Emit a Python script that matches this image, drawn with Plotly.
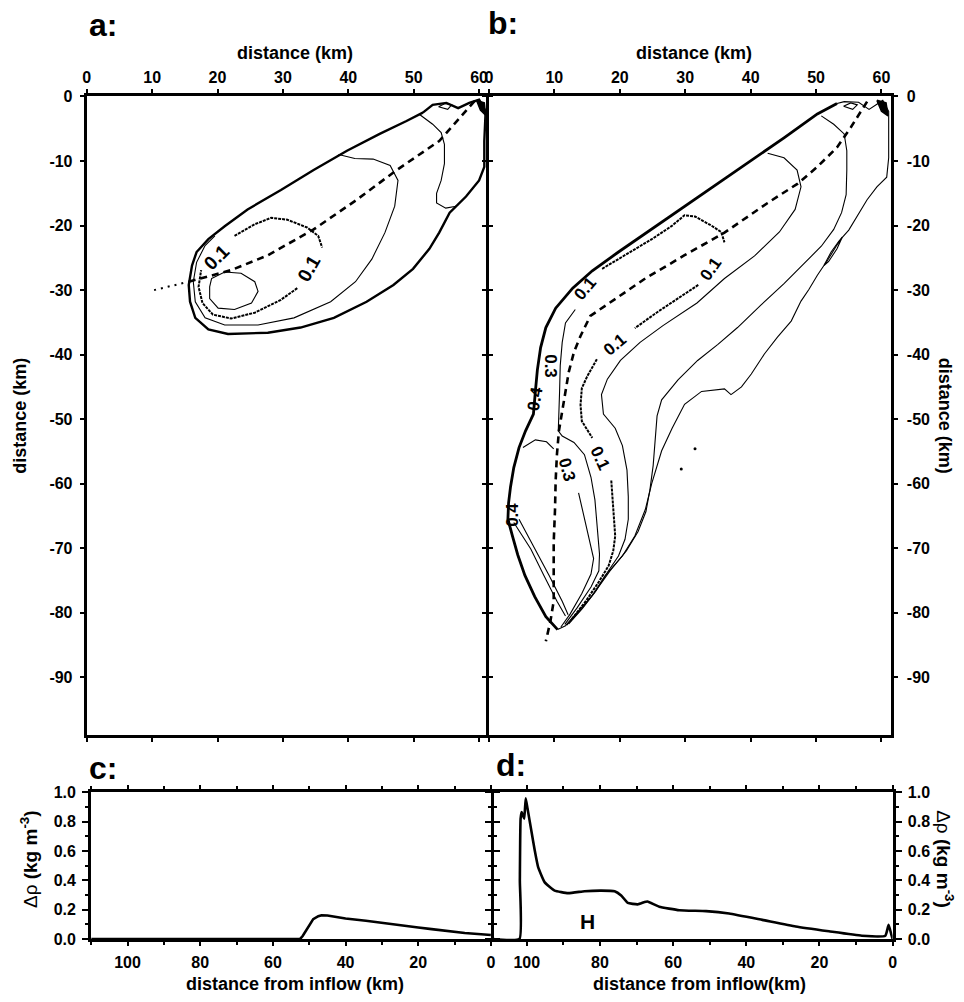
import plotly.graph_objects as go

FONT = "Liberation Sans, Arial, sans-serif"

# ---------------- tick values and labels ----------------
TOP_TICKS = [0, 10, 20, 30, 40, 50, 60]
DEPTH_TICKS = [0, -10, -20, -30, -40, -50, -60, -70, -80, -90]
DEPTH_TEXT = ["0", "-10", "-20", "-30", "-40", "-50", "-60", "-70", "-80", "-90"]
INFLOW_TICKS = [100, 80, 60, 40, 20, 0]
DRHO_TICKS = [0.0, 0.2, 0.4, 0.6, 0.8, 1.0]
DRHO_TEXT = ["0.0", "0.2", "0.4", "0.6", "0.8", "1.0"]

# ---------------- panel a: plume outline and contours (km, km) ----------------
a_outer = [(51.4, -2.5), (52.9, -1.3), (55.0, -1.0), (56.8, -1.8), (58.5, -1.0), (60.0, -0.5),
           (61.0, -2.3), (60.8, -6.9), (60.8, -10.9), (60.0, -13.0), (58.0, -15.5), (55.5, -18.0),
           (53.9, -21.1), (52.4, -23.6), (49.9, -26.7), (46.9, -29.2), (42.8, -31.8), (37.8, -34.3),
           (32.7, -35.8), (27.7, -36.6), (21.6, -36.8), (18.6, -36.1), (16.6, -34.3), (15.8, -31.8),
           (15.6, -29.2), (16.1, -26.2), (16.8, -24.1), (18.6, -22.1), (21.1, -20.1), (24.6, -17.5),
           (29.7, -14.5), (34.7, -11.4), (39.8, -8.4), (44.8, -5.8), (48.9, -3.8), (51.4, -2.5)]
a_near_inflow = [(50.9, -2.8), (52.9, -4.3), (54.2, -5.6), (54.7, -7.4), (54.7, -10.4), (54.2, -13.0),
                 (53.5, -15.0), (53.5, -16.5), (54.9, -17.3), (56.5, -17.0)]
a_mid = [(38.5, -9.0), (41.0, -9.6), (43.8, -9.7), (46.4, -10.7), (47.6, -13.0), (47.1, -17.0),
         (45.6, -21.1), (43.6, -25.2), (41.1, -28.7), (37.3, -31.8), (31.7, -34.3), (26.2, -35.4),
         (21.1, -35.4), (18.1, -34.3), (16.6, -31.8), (16.3, -28.7), (16.8, -25.7), (18.1, -23.1),
         (19.6, -21.6)]
a_c01_upper = [(22.6, -21.6), (25.7, -19.8), (28.2, -18.8), (30.7, -19.1), (33.7, -20.3),
               (35.4, -21.6), (36.0, -23.4)]
a_c01_lower = [(32.2, -29.7), (29.7, -31.5), (25.7, -33.5), (22.1, -34.4), (19.3, -33.8),
               (17.7, -32.0), (17.1, -29.5), (17.5, -26.9)]
a_core = [(19.1, -28.2), (21.1, -27.2), (23.6, -27.4), (25.7, -28.7), (26.2, -30.2), (25.2, -32.0),
          (22.6, -33.0), (20.1, -32.8), (18.8, -31.3), (18.8, -29.5), (19.1, -28.2)]
a_path = [(15.6, -28.7), (22.1, -26.9), (27.7, -24.6), (34.7, -20.6), (41.3, -16.0), (47.4, -11.4),
          (53.9, -6.9), (58.0, -2.3), (59.5, -0.5)]
a_path_tail = [(10.3, -30.0), (15.6, -28.7)]
a_loop_top = [(53.8, -1.6), (54.8, -1.1), (55.8, -1.3), (55.2, -2.0), (53.8, -1.6)]
a_wedge = [(59.6, -0.6), (60.8, -1.0), (61.0, -2.9), (60.2, -2.1), (59.6, -0.6)]
a_labels = [("0.1", 19.8, -24.9, -45), ("0.1", 34.0, -26.7, -60)]

# ---------------- panel b ----------------
b_outer_left = [(53.2, -1.1), (50.2, -2.7), (45.1, -6.4), (40.1, -9.9), (35.0, -13.4), (29.9, -17.1),
                (24.9, -20.6), (19.8, -24.1), (15.8, -27.0), (12.8, -29.7), (10.2, -32.8), (8.7, -35.8),
                (7.9, -38.9), (7.4, -42.4), (7.1, -45.7), (6.8, -49.2), (5.6, -51.8), (4.6, -54.4),
                (3.8, -57.5), (3.3, -60.5), (3.0, -63.0), (2.9, -65.5), (3.6, -68.1), (4.4, -71.0),
                (5.5, -74.2), (7.0, -77.5), (8.7, -80.6), (10.5, -82.6)]
b_outer_right = [(53.2, -1.1), (54.3, -0.8), (56.5, -0.9), (58.1, -2.0), (59.3, -1.2), (60.2, -0.6),
                 (61.1, -2.3), (61.1, -5.8), (61.1, -9.5), (60.8, -12.5), (59.3, -14.0), (57.8, -16.0),
                 (56.2, -18.6), (55.0, -20.7), (53.5, -22.4), (52.3, -24.1), (51.2, -26.2), (50.2, -27.7),
                 (48.9, -29.9), (47.7, -31.7), (46.2, -34.8), (44.1, -37.3), (42.1, -39.9), (40.1, -43.0),
                 (38.6, -45.0), (37.0, -46.2), (36.0, -45.3), (32.5, -45.7), (29.9, -47.7), (28.0, -51.4),
                 (26.4, -54.9), (24.9, -59.9), (23.9, -64.0), (22.3, -68.1), (20.4, -71.2), (17.8, -74.2),
                 (15.8, -77.3), (13.2, -80.3), (11.7, -82.0), (10.5, -82.6)]
b_near_inflow = [(50.8, -3.0), (52.7, -4.3), (54.3, -5.8), (54.7, -8.4), (54.7, -11.4), (54.6, -15.2),
                 (53.9, -18.0), (52.7, -20.6), (50.8, -23.2), (48.2, -25.9), (45.1, -29.0), (41.6, -32.3),
                 (38.0, -35.8), (35.0, -38.4), (31.9, -40.9), (28.9, -43.9), (26.4, -47.0), (25.7, -49.5),
                 (25.4, -53.4), (25.1, -57.2), (24.6, -61.0), (24.0, -64.3), (22.8, -67.4), (21.0, -70.4),
                 (18.5, -73.5), (16.4, -76.5), (14.0, -79.6), (11.9, -81.9)]
b_mid = [(42.6, -8.8), (45.1, -9.5), (47.1, -11.4), (47.7, -14.0), (46.8, -17.5), (44.4, -21.0),
         (40.6, -24.7), (36.0, -28.2), (31.8, -32.0), (26.6, -35.5), (23.1, -38.1), (20.1, -40.9),
         (18.1, -43.8), (17.2, -46.2), (17.5, -49.2), (19.3, -51.4), (20.4, -54.1), (21.1, -57.9),
         (21.3, -62.0), (21.3, -65.5), (20.8, -68.6), (19.8, -71.2), (18.2, -73.6), (16.3, -76.7),
         (14.3, -79.3), (12.2, -81.7)]
b_c01_upper = [(17.3, -26.7), (20.8, -24.6), (24.9, -22.1), (27.9, -20.1), (29.9, -18.4), (31.5, -18.6),
               (34.0, -20.0), (35.5, -21.0), (36.0, -22.6)]
b_c01_lower1 = [(32.0, -29.2), (28.9, -31.3), (25.9, -33.3), (22.3, -35.9)]
b_c01_lower2 = [(16.5, -40.7), (15.0, -43.4), (14.2, -45.2), (14.0, -47.8), (14.2, -50.3), (15.8, -52.9)]
b_c01_lower3 = [(18.7, -59.5), (19.0, -64.0), (19.3, -68.1), (19.0, -70.4), (18.3, -72.7), (16.8, -75.2),
                (14.8, -78.2), (12.5, -81.2)]
b_c03_a = [(13.2, -33.0), (11.7, -35.1), (11.2, -38.1), (10.9, -41.7), (10.8, -45.7), (10.7, -49.3),
           (10.6, -51.8), (11.2, -52.6), (13.0, -53.6), (14.6, -55.5), (15.6, -59.0), (16.2, -62.5),
           (16.6, -67.1), (16.9, -70.9), (16.8, -73.5), (15.6, -76.0), (13.5, -79.2), (11.6, -81.8)]
b_c03_b1 = [(5.2, -54.4), (7.1, -53.2), (8.8, -53.5), (9.9, -54.6)]
b_c03_b2 = [(13.7, -61.4), (14.6, -65.5), (15.4, -69.1), (16.0, -71.6), (15.6, -74.0), (14.2, -77.0),
            (12.4, -80.2), (11.0, -82.2)]
b_edge1 = [(3.8, -66.0), (6.4, -70.1), (8.4, -74.2), (10.4, -78.2), (11.7, -80.5)]
b_edge2 = [(4.6, -65.5), (7.1, -70.1), (9.2, -74.2), (11.2, -78.2), (12.1, -80.3)]
b_path = [(57.8, -0.8), (55.3, -4.8), (53.2, -7.9), (50.2, -10.9), (47.2, -13.5), (42.6, -16.5),
          (36.0, -21.1), (29.9, -24.6), (23.9, -28.2), (18.8, -31.8), (15.5, -34.0), (14.0, -37.1),
          (13.0, -39.6), (12.2, -42.7), (11.7, -45.7), (11.2, -49.3), (10.7, -51.8), (10.4, -55.4),
          (10.2, -59.5), (10.1, -64.0), (9.9, -69.1), (9.9, -74.2), (9.9, -78.2), (9.4, -81.3), (8.7, -84.4)]
b_loop_side = [(54.0, -21.8), (53.0, -23.3), (51.7, -25.5), (51.2, -26.2), (51.9, -25.6), (53.2, -23.6),
               (54.0, -21.8)]
b_loop_top = [(54.2, -1.5), (55.3, -1.0), (56.3, -1.3), (55.6, -2.0), (54.2, -1.5)]
b_wedge = [(59.3, -0.6), (60.7, -1.0), (61.0, -3.0), (60.0, -2.3), (59.3, -0.6)]
b_specks = [(31.5, -54.6), (29.4, -57.7)]
b_labels = [("0.1", 14.7, -29.7, -50), ("0.1", 34.0, -26.7, -55), ("0.1", 19.3, -38.4, -40),
            ("0.1", 17.0, -56.1, 65), ("0.3", 9.5, -41.8, 90), ("0.3", 12.0, -57.9, 75),
            ("0.4", 7.1, -46.8, -80), ("0.4", 3.7, -64.8, -90)]

# ---------------- panels c, d: density anomaly along the path ----------------
c_dist = [110, 52.5, 51.8, 50.7, 48.9, 47.5, 46.6, 45.0, 43.4, 40.0, 34.4, 30.0, 25.3, 20.0, 16.3,
          10.0, 7.2, 0.0]
c_drho = [0, 0, 0.02, 0.067, 0.135, 0.155, 0.162, 0.16, 0.153, 0.14, 0.124, 0.11, 0.09, 0.078, 0.067,
          0.05, 0.04, 0.027]
d_dist = [109.5, 102.0, 101.9, 101.7, 101.4, 101.0, 100.7, 100.3, 99.8, 98.7, 97.8, 96.9, 95.1, 92.4,
          88.7, 84.2, 79.6, 76.0, 74.2, 72.4, 69.7, 67.8, 67.0, 63.8, 58.3, 51.0, 44.7, 35.6, 26.5,
          17.4, 8.4, 2.0, 1.1, 0.35, 0.0]
d_drho = [0, 0, 0.4, 0.82, 0.866, 0.84, 0.82, 0.96, 0.89, 0.73, 0.60, 0.49, 0.386, 0.33, 0.313, 0.326,
          0.33, 0.326, 0.297, 0.246, 0.236, 0.252, 0.255, 0.22, 0.196, 0.19, 0.174, 0.13, 0.085,
          0.052, 0.022, 0.022, 0.096, 0.03, 0.0]

W, H = 964, 1002
fig = go.Figure()


def add_curve(pts, xa, ya, width=1.0, dash=None, fill=False):
    fig.add_trace(go.Scatter(
        x=[p[0] for p in pts], y=[p[1] for p in pts], xaxis=xa, yaxis=ya, mode="lines",
        line=dict(color="black", width=width, dash=dash),
        fill="toself" if fill else None, fillcolor="black",
        hoverinfo="skip", showlegend=False))


THIN, BOLD, HAIRY = 1.1, 2.4, 2.0
HAIRY_DASH = "3px,1px"
PATH_DASH = "7px,5px"

# panel a
add_curve(a_outer, "x", "y", BOLD)
add_curve(a_near_inflow, "x", "y", THIN)
add_curve(a_mid, "x", "y", THIN)
add_curve(a_c01_upper, "x", "y", HAIRY, HAIRY_DASH)
add_curve(a_c01_lower, "x", "y", HAIRY, HAIRY_DASH)
add_curve(a_core, "x", "y", THIN)
add_curve(a_path, "x", "y", 2.6, PATH_DASH)
add_curve(a_path_tail, "x", "y", 2.0, "2px,5px")
add_curve(a_loop_top, "x", "y", THIN)
add_curve(a_wedge, "x", "y", 1.5, fill=True)

# panel b
add_curve(b_outer_left, "x2", "y2", BOLD + 0.4)
add_curve(b_outer_right, "x2", "y2", THIN)
add_curve(b_near_inflow, "x2", "y2", THIN)
add_curve(b_mid, "x2", "y2", THIN)
add_curve(b_c01_upper, "x2", "y2", HAIRY, HAIRY_DASH)
add_curve(b_c01_lower1, "x2", "y2", HAIRY, HAIRY_DASH)
add_curve(b_c01_lower2, "x2", "y2", HAIRY, HAIRY_DASH)
add_curve(b_c01_lower3, "x2", "y2", HAIRY, HAIRY_DASH)
add_curve(b_c03_a, "x2", "y2", THIN)
add_curve(b_c03_b1, "x2", "y2", THIN)
add_curve(b_c03_b2, "x2", "y2", THIN)
add_curve(b_edge1, "x2", "y2", THIN)
add_curve(b_edge2, "x2", "y2", THIN)
add_curve(b_path, "x2", "y2", 2.6, PATH_DASH)
add_curve(b_loop_side, "x2", "y2", THIN)
add_curve(b_loop_top, "x2", "y2", THIN)
add_curve(b_wedge, "x2", "y2", 1.5, fill=True)
fig.add_trace(go.Scatter(x=[p[0] for p in b_specks], y=[p[1] for p in b_specks], xaxis="x2", yaxis="y2",
                         mode="markers", marker=dict(color="black", size=3), hoverinfo="skip",
                         showlegend=False))

# panels c, d
fig.add_trace(go.Scatter(x=c_dist, y=c_drho, xaxis="x3", yaxis="y3", mode="lines",
                         line=dict(color="black", width=2.6), hoverinfo="skip", showlegend=False))
fig.add_trace(go.Scatter(x=d_dist, y=d_drho, xaxis="x4", yaxis="y4", mode="lines",
                         line=dict(color="black", width=2.6, shape="spline", smoothing=0.4),
                         hoverinfo="skip", showlegend=False))

tickfont = dict(family=FONT, size=16, color="black", weight="bold")
common = dict(showline=True, linecolor="black", linewidth=3, mirror="ticks", ticks="outside",
              ticklen=4, tickwidth=2, tickcolor="black", showgrid=False, zeroline=False,
              tickfont=tickfont, fixedrange=True)
minor_x = dict(dtick=10, tick0=0, ticklen=3, tickwidth=2, ticks="outside", tickcolor="black")
minor_y = dict(dtick=0.1, tick0=0, ticklen=3, tickwidth=2, ticks="outside", tickcolor="black")


def px_x(a, b):
    return [a / W, b / W]


def px_y(top, bottom):
    return [1 - bottom / H, 1 - top / H]


fig.update_layout(
    width=W, height=H, margin=dict(l=0, r=0, t=0, b=0),
    paper_bgcolor="white", plot_bgcolor="white", showlegend=False,
    font=dict(family=FONT, color="black"),
    xaxis=dict(common, domain=px_x(83.5, 486.5), range=[0, 61.05], side="top", anchor="y",
               tickvals=TOP_TICKS),
    yaxis=dict(common, domain=px_y(90, 740), range=[-99, 0], anchor="x",
               tickvals=DEPTH_TICKS, ticktext=DEPTH_TEXT, ticklabelstandoff=4),
    xaxis2=dict(common, domain=px_x(489.5, 895), range=[0, 61.4], side="top", anchor="y2",
                tickvals=TOP_TICKS),
    yaxis2=dict(common, domain=px_y(90, 740), range=[-99, 0], anchor="x2", side="right",
                tickvals=DEPTH_TICKS, ticktext=DEPTH_TEXT, ticklabelstandoff=6),
    xaxis3=dict(common, domain=px_x(88, 491.5), range=[110, 0], anchor="y3", tickvals=INFLOW_TICKS,
                ticklabelstandoff=3, minor=minor_x),
    yaxis3=dict(common, domain=px_y(798, 947), range=[0, 1], anchor="x3",
                tickvals=DRHO_TICKS, ticktext=DRHO_TEXT, ticklen=6, ticklabelstandoff=3, minor=minor_y),
    xaxis4=dict(common, domain=px_x(494.5, 897), range=[109, 0], anchor="y4", tickvals=INFLOW_TICKS,
                ticklabelstandoff=3, minor=minor_x),
    yaxis4=dict(common, domain=px_y(798, 947), range=[0, 1], anchor="x4", side="right",
                tickvals=DRHO_TICKS, ticktext=DRHO_TEXT, ticklen=6, ticklabelstandoff=3, minor=minor_y),
)

bold18 = dict(family=FONT, size=18, color="black", weight="bold")
anns = []


def note(text, x, y, font, angle=0, xanchor="center", yanchor="middle"):
    anns.append(dict(text=text, x=x / W, y=1 - y / H, xref="paper", yref="paper", showarrow=False,
                     font=font, textangle=angle, xanchor=xanchor, yanchor=yanchor))


panel_font = dict(family=FONT, size=32, color="black", weight="bold")
note("a:", 84, 17, panel_font, xanchor="left")
note("b:", 487, 15, panel_font, xanchor="left")
note("c:", 84, 773, panel_font, xanchor="left")
note("d:", 495, 770, panel_font, xanchor="left")

note("distance (km)", 294, 46, bold18)
note("distance (km)", 697, 46, bold18)
note("distance (km)", 16, 415, bold18, angle=-90)
note("distance (km)", 950, 415, bold18, angle=90)
drho = "Δρ <b>(kg m<sup>-3</sup>)</b>"
note(drho, 26, 866, dict(family=FONT, size=19, color="black"), angle=-90)
note(drho, 950, 866, dict(family=FONT, size=19, color="black"), angle=90)
note("distance from inflow (km)", 294, 1005, bold18, yanchor="bottom")
note("distance from inflow(km)", 702, 1005, bold18, yanchor="bottom")

label_font = dict(family=FONT, size=19, color="black", weight="bold")
for txt, lx, ly, ang in a_labels:
    anns.append(dict(text=txt, x=lx, y=ly, xref="x", yref="y", showarrow=False, font=label_font,
                     textangle=ang))
for txt, lx, ly, ang in b_labels:
    anns.append(dict(text=txt, x=lx, y=ly, xref="x2", yref="y2", showarrow=False,
                     font=dict(label_font, size=17), textangle=ang))
anns.append(dict(text="H", x=83.3, y=0.12, xref="x4", yref="y4", showarrow=False,
                 font=dict(family=FONT, size=21, color="black", weight="bold")))

fig.update_layout(annotations=anns)
fig.write_html("out.html")
